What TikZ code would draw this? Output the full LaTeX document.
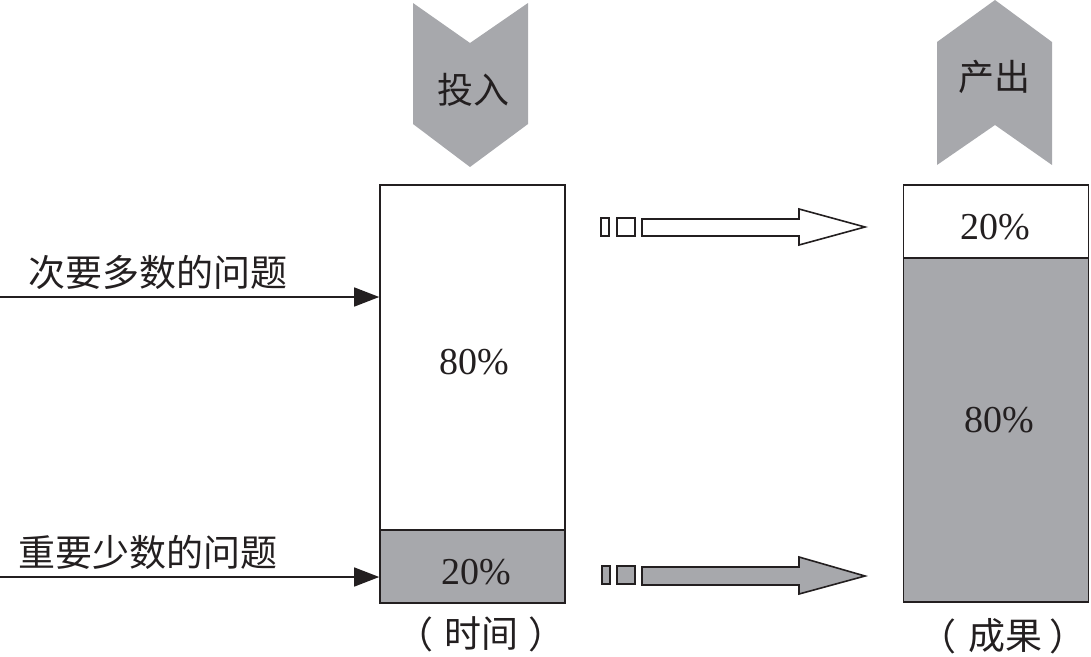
\documentclass[tikz,border=0pt]{standalone}
\usepackage{fontspec}
\setmainfont{Liberation Serif}
\newfontfamily\cjk{Noto Sans CJK SC}
\usetikzlibrary{arrows.meta}
\definecolor{fillgray}{RGB}{167,168,172}
\definecolor{inkc}{RGB}{35,31,32}
\tikzset{
  barpart/.style={draw=inkc, line width=1.6pt, inner sep=0pt, minimum width=185pt},
  pct/.style={inner sep=0pt, font=\fontsize{38}{40}\selectfont, text=inkc},
  cntxt/.style={inner sep=0pt, font=\cjk\fontsize{37}{40}\selectfont, text=inkc},
  chev/.style={fill=fillgray, draw=none},
  fatarrow/.style={draw=inkc, line width=1.6pt, line join=miter},
  smallbox/.style={draw=inkc, line width=1.6pt},
  feed/.style={draw=inkc, line width=1.4pt, -{Triangle[length=25pt,width=19pt]}}
}
\begin{document}
\begin{tikzpicture}[x=1pt,y=-1pt]
\useasboundingbox (0,0) rectangle (1091,656);
% chevrons
\fill[chev] (413,3) -- (470,43) -- (528,3) -- (528,124) -- (470,167) -- (413,124) -- cycle;
\node[cntxt, font=\cjk\fontsize{36}{38}\selectfont] (in) at (473,90) {投入};
\fill[chev] (937,42) -- (995,0) -- (1052,42) -- (1052,165) -- (995,125) -- (937,165) -- cycle;
\node[cntxt, font=\cjk\fontsize{36}{38}\selectfont] (out) at (994,77) {产出};
% left bar
\node[barpart, minimum height=345pt, fill=white] (l80) at (472.5,357.5) {};
\node[barpart, minimum height=73pt, fill=fillgray] (l20) at (472.5,566.5) {};
\node[pct] (l80t) at (474,362) {80\%};
\node[pct] (l20t) at (476,572) {20\%};
% right bar
\node[barpart, minimum height=73pt, fill=white] (r20) at (996,221.5) {};
\node[barpart, minimum height=344pt, fill=fillgray] (r80) at (996,430) {};
\node[pct] (r20t) at (995,227) {20\%};
\node[pct] (r80t) at (999,420) {80\%};
% labels
\node[cntxt] (t1) at (158,272) {次要多数的问题};
\node[cntxt] (t2) at (148,552) {重要少数的问题};
\node[cntxt] (tl) at (415,634) {（};
\node[cntxt] (tm) at (481,634) {时间};
\node[cntxt] (tr) at (547,634) {）};
\node[cntxt] (rl) at (938,636) {（};
\node[cntxt] (rm) at (1005,636) {成果};
\node[cntxt] (rr) at (1068,636) {）};
% feed arrows
\coordinate (s1) at (0,297);
\coordinate (s2) at (0,577);
\draw[feed] (s1) -- (s1 -| l80.west);
\draw[feed] (s2) -- (s2 -| l20.west);
% top fat arrow
\draw[smallbox, fill=white] (601,218) rectangle (609,236);
\draw[smallbox, fill=white] (617,218) rectangle (635,236);
\draw[fatarrow, fill=white] (642,219) -- (799,219) -- (799,209) -- (865,227) -- (799,245) -- (799,236) -- (642,236) -- cycle;
% bottom fat arrow
\draw[smallbox, fill=fillgray] (602,566) rectangle (610,584);
\draw[smallbox, fill=fillgray] (617,566) rectangle (635,584);
\draw[fatarrow, fill=fillgray] (642,567) -- (799,567) -- (799,557) -- (865,576) -- (799,594) -- (799,585) -- (642,585) -- cycle;
\end{tikzpicture}
\end{document}
